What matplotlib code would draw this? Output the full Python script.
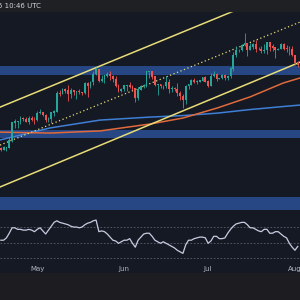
#Imports
import numpy as np
import matplotlib
matplotlib.use("Agg")
import matplotlib.pyplot as plt
from matplotlib.patches import Rectangle

#Daily candles, day 0 = Apr 18 (price in thousands)
first_open = 84.9
closes = [84.5, 85.1, 85.2, 87.5, 93.4, 93.7, 93.9, 94.7, 94.6, 93.8,
          95.0, 94.3, 94.2, 96.5, 96.9, 95.9, 94.3, 94.7, 96.8, 97.0,
          103.2, 102.9, 104.6, 104.1, 102.8, 104.1, 103.5, 103.7, 103.5, 103.2,
          106.5, 105.6, 106.8, 109.6, 111.0, 107.3, 107.8, 109.0, 109.4, 108.9,
          107.8, 105.6, 103.9, 104.6, 105.7, 105.8, 105.4, 104.7, 101.5, 104.4,
          105.6, 105.7, 110.3, 110.3, 108.7, 105.9, 106.1, 105.5, 105.6, 106.8,
          104.6, 104.9, 104.6, 103.3, 102.2, 100.9, 105.5, 106.0, 107.3, 106.9,
          107.1, 107.3, 108.4, 107.1, 105.7, 108.8, 109.6, 108.0, 108.2, 109.2,
          108.3, 108.9, 111.3, 115.9, 117.5, 117.4, 119.1, 119.8, 117.7, 118.7,
          119.3, 117.9, 117.9, 117.3, 117.4, 119.9, 118.6, 118.3, 117.6, 117.9,
          119.4, 118.0, 117.9, 117.8, 115.8, 113.3, 112.5]
highs = [85.4, 85.6, 85.3, 88.8, 93.8, 94.6, 94.0, 95.8, 95.3, 95.3,
         95.6, 95.5, 95.2, 97.4, 97.9, 96.9, 96.2, 95.2, 96.9, 97.7,
         104.0, 104.3, 104.9, 104.9, 105.8, 104.9, 104.3, 104.1, 104.5, 103.7,
         107.0, 107.1, 107.3, 110.7, 111.9, 111.3, 109.4, 109.3, 110.4, 110.7,
         109.3, 108.9, 106.3, 104.9, 105.9, 105.9, 106.8, 105.9, 105.0, 105.4,
         105.9, 106.4, 110.5, 110.4, 110.4, 108.8, 106.2, 106.2, 106.1, 108.9,
         107.8, 105.5, 105.3, 106.5, 104.0, 103.0, 106.1, 106.3, 108.0, 108.2,
         107.7, 107.6, 108.5, 108.8, 107.5, 109.8, 110.6, 109.8, 108.4, 109.7,
         109.7, 109.2, 111.9, 116.9, 118.9, 118.0, 119.5, 123.2, 119.9, 119.8,
         120.0, 120.9, 118.4, 118.8, 119.7, 120.2, 120.1, 119.5, 118.4, 118.3,
         119.8, 119.8, 119.2, 118.8, 118.9, 116.0, 114.0]
lows = [84.1, 84.3, 83.9, 85.1, 87.0, 91.8, 91.7, 92.9, 93.9, 93.5,
        92.9, 93.9, 92.9, 94.1, 96.3, 95.7, 93.6, 93.5, 93.4, 95.8,
        96.9, 102.3, 102.8, 103.4, 100.7, 101.5, 102.6, 101.4, 103.1, 102.6,
        103.1, 102.0, 104.9, 106.1, 109.3, 106.8, 107.1, 106.6, 108.6, 107.5,
        106.9, 105.3, 103.7, 103.7, 103.9, 103.8, 105.1, 104.2, 100.4, 101.1,
        104.2, 105.1, 105.4, 108.4, 108.1, 105.7, 102.7, 104.9, 104.5, 105.1,
        103.4, 103.5, 103.9, 102.4, 101.0, 98.2, 99.6, 104.6, 105.9, 106.7,
        106.2, 106.9, 107.2, 106.8, 105.3, 105.5, 108.6, 107.3, 107.8, 107.8,
        107.5, 107.5, 108.4, 110.6, 115.3, 116.9, 117.3, 118.9, 115.7, 117.4,
        117.8, 116.9, 117.5, 116.6, 116.5, 116.1, 117.3, 117.3, 114.8, 117.4,
        117.8, 117.5, 116.9, 115.8, 115.5, 112.7, 112.0]

#RSI(14) per day
rsi = [53, 53, 56, 62, 69, 69, 67, 67, 66, 66,
       67, 66, 64, 67, 69, 65, 61, 66, 71, 76,
       78, 76, 75, 74, 73, 71, 70, 70, 69, 70,
       73, 75, 76, 78, 79, 64, 65, 64, 61, 57,
       53, 52, 49, 51, 53, 53, 55, 49, 44, 53,
       57, 61, 62, 62, 58, 53, 51, 49, 51, 49,
       47, 45, 43, 40, 38, 36, 47, 53, 53, 55,
       56, 57, 57, 56, 49, 52, 58, 58, 55, 55,
       56, 62, 67, 71, 74, 75, 76, 76, 73, 69,
       69, 67, 65, 64, 67, 67, 62, 62, 64, 64,
       61, 58, 56, 49, 44, 40, 45]

#Moving averages (read at a few days)
ma_days = [-0.3, 17.6, 35.4, 53.3, 65.1, 77.2, 89.0, 100.8, 106.9]
ma_orange = [90.3, 90.0, 90.7, 93.0, 95.0, 98.3, 102.0, 106.6, 108.3]
ma_blue = [87.7, 91.7, 94.3, 95.3, 95.8, 96.6, 97.8, 98.8, 99.3]

#Horizontal zones (low, high)
zones = [(109.3, 112.2), (88.3, 91.0), (64.4, 68.8)]

#Channel lines: start/end day and price
chan_days = [-0.3, 107]
chan_upper = [98.6, 139.6]
chan_mid = [86.0, 126.9]
chan_lower = [72.1, 113.6]

months = ["May", "Jun", "Jul", "Aug"]
month_days = [13, 44, 74, 105]

bg = "#151924"
green = "#26a69a"
red = "#ef5350"

fig = plt.figure(figsize=(3, 3), dpi=100, facecolor=bg)
fig.patches.append(Rectangle((0, 1 - 11 / 300), 1, 11 / 300, transform=fig.transFigure,
                             color="#1f2024", zorder=0))
fig.patches.append(Rectangle((0, 0), 1, 27 / 300, transform=fig.transFigure,
                             color="#1d1d21", zorder=0))
fig.text(-0.008, 1 - 5.5 / 300, "5 10:46 UTC", fontsize=5, color="#d1d4dc", va="center")

#Price pane
ax = fig.add_axes([0, 88 / 300, 1, 201 / 300])
ax.set_facecolor(bg)
ax.set_xlim(-0.3, 106.8)
ax.set_ylim(63.8, 130.5)

for lo, hi in zones:
    ax.axhspan(lo, hi, color="#284a8a", alpha=0.95, lw=0, zorder=1)

ax.plot(ma_days, ma_blue, color="#3f7fd6", lw=1.1, zorder=2)
ax.plot(ma_days, ma_orange, color="#e06a3c", lw=1.1, zorder=2)

ax.plot(chan_days, chan_upper, color="#e8dc78", lw=1.1, zorder=3)
ax.plot(chan_days, chan_lower, color="#e8dc78", lw=1.1, zorder=3)
ax.plot(chan_days, chan_mid, color="#e8dc78", lw=0.9, ls=(0, (1, 2)), zorder=3)

closes = np.array(closes)
opens = np.concatenate([[first_open], closes[:-1]])
days = np.arange(len(closes))
cols = [green if c >= o else red for o, c in zip(opens, closes)]
ax.vlines(days, lows, highs, colors=cols, lw=0.6, zorder=4)
ax.bar(days, np.abs(closes - opens) + 0.15, bottom=np.minimum(opens, closes),
       width=0.65, color=cols, lw=0, zorder=5)
ax.axis("off")

#RSI pane
ax2 = fig.add_axes([0, 36 / 300, 1, 50 / 300])
ax2.set_facecolor(bg)
ax2.set_xlim(-0.3, 106.8)
ax2.set_ylim(22.3, 86.8)
for lvl in [70, 50, 30]:
    ax2.axhline(lvl, color="#5a5f6b", lw=0.6, ls=(0, (2, 2)))
ax2.plot(days, rsi, color="#c9cbe0", lw=0.9)
for s in ax2.spines.values():
    s.set_visible(False)
ax2.set_yticks([])
ax2.set_xticks(month_days)
ax2.set_xticklabels(months)
ax2.tick_params(axis="x", length=0, pad=1.5, labelsize=5, labelcolor="#b2b5be")

fig.savefig("out.png", dpi=100, facecolor=bg)
